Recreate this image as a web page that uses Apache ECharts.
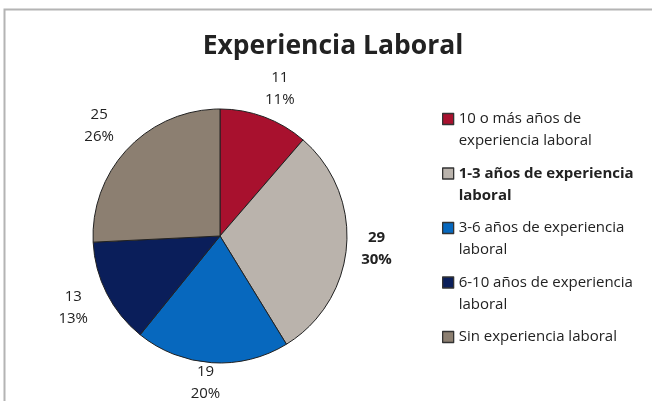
<!DOCTYPE html>
<html>
<head>
<meta charset="utf-8">
<script src="https://cdn.jsdelivr.net/npm/echarts@6/dist/echarts.min.js"></script>
<style>
  html, body { margin: 0; padding: 0; background: #fff; }
  #chart { width: 652px; height: 401px; }
</style>
</head>
<body>
<div id="chart"></div>
<script>
// categorias y valores
var categorias = [
  '10 o más años de\nexperiencia laboral',
  '1-3 años de experiencia\nlaboral',
  '3-6 años de experiencia\nlaboral',
  '6-10 años de experiencia\nlaboral',
  'Sin experiencia laboral'
];
var valores = [11, 29, 19, 13, 25];
var colores = ['#A8112E', '#BAB3AC', '#0768BE', '#0A1E5A', '#8C7F71'];
var negrita = [false, true, false, false, false];
// distancia de cada etiqueta al borde del sector
var distEtiqueta = [30, 25, 20, 32, 33];

var fuente = 'Open Sans';

var myChart = echarts.init(document.getElementById('chart'));

var pieData = categorias.map(function (c, i) {
  return {
    name: c,
    value: valores[i],
    itemStyle: { color: colores[i] },
    label: { fontWeight: negrita[i] ? 'bold' : 'normal' },
    labelLine: { length: distEtiqueta[i] }
  };
});

var legendData = categorias.map(function (c, i) {
  return {
    name: c,
    textStyle: { fontWeight: negrita[i] ? 'bold' : 'normal' }
  };
});

var option = {
  animation: false,
  backgroundColor: '#fff',
  graphic: [{
    type: 'rect',
    shape: { x: 4.5, y: 9.5, width: 700, height: 420 },
    style: { fill: 'none', stroke: '#b4b4b4', lineWidth: 2 },
    silent: true
  }],
  title: {
    text: 'Experiencia Laboral',
    left: 333,
    textAlign: 'center',
    top: 33,
    padding: 0,
    textStyle: { fontFamily: fuente, fontSize: 26.5, fontWeight: 'bold', color: '#222' }
  },
  legend: {
    orient: 'vertical',
    left: 442,
    top: 86,
    padding: 0,
    itemWidth: 11,
    itemHeight: 11,
    itemGap: -11.5,
    icon: 'rect',
    itemStyle: { borderColor: '#333', borderWidth: 1.3 },
    textStyle: { fontFamily: fuente, fontSize: 15, lineHeight: 22, color: '#222' },
    // linea vacia arriba para que el cuadro quede junto a la primera linea
    formatter: function (name) {
      return name.indexOf('\n') >= 0 ? ' \n' + name : ' \n' + name + '\n ';
    },
    data: legendData
  },
  series: [{
    type: 'pie',
    center: [220, 236],
    radius: 127,
    startAngle: 90,
    avoidLabelOverlap: false,
    itemStyle: { borderColor: '#222', borderWidth: 1 },
    label: {
      position: 'outside',
      fontFamily: fuente,
      fontSize: 15,
      lineHeight: 22,
      color: '#222',
      formatter: function (p) {
        return p.value + '\n' + Math.round(p.percent) + '%';
      }
    },
    labelLine: { show: false, length2: 0 },
    labelLayout: { align: 'center', verticalAlign: 'middle' },
    data: pieData
  }]
};

myChart.setOption(option);
</script>
</body>
</html>
